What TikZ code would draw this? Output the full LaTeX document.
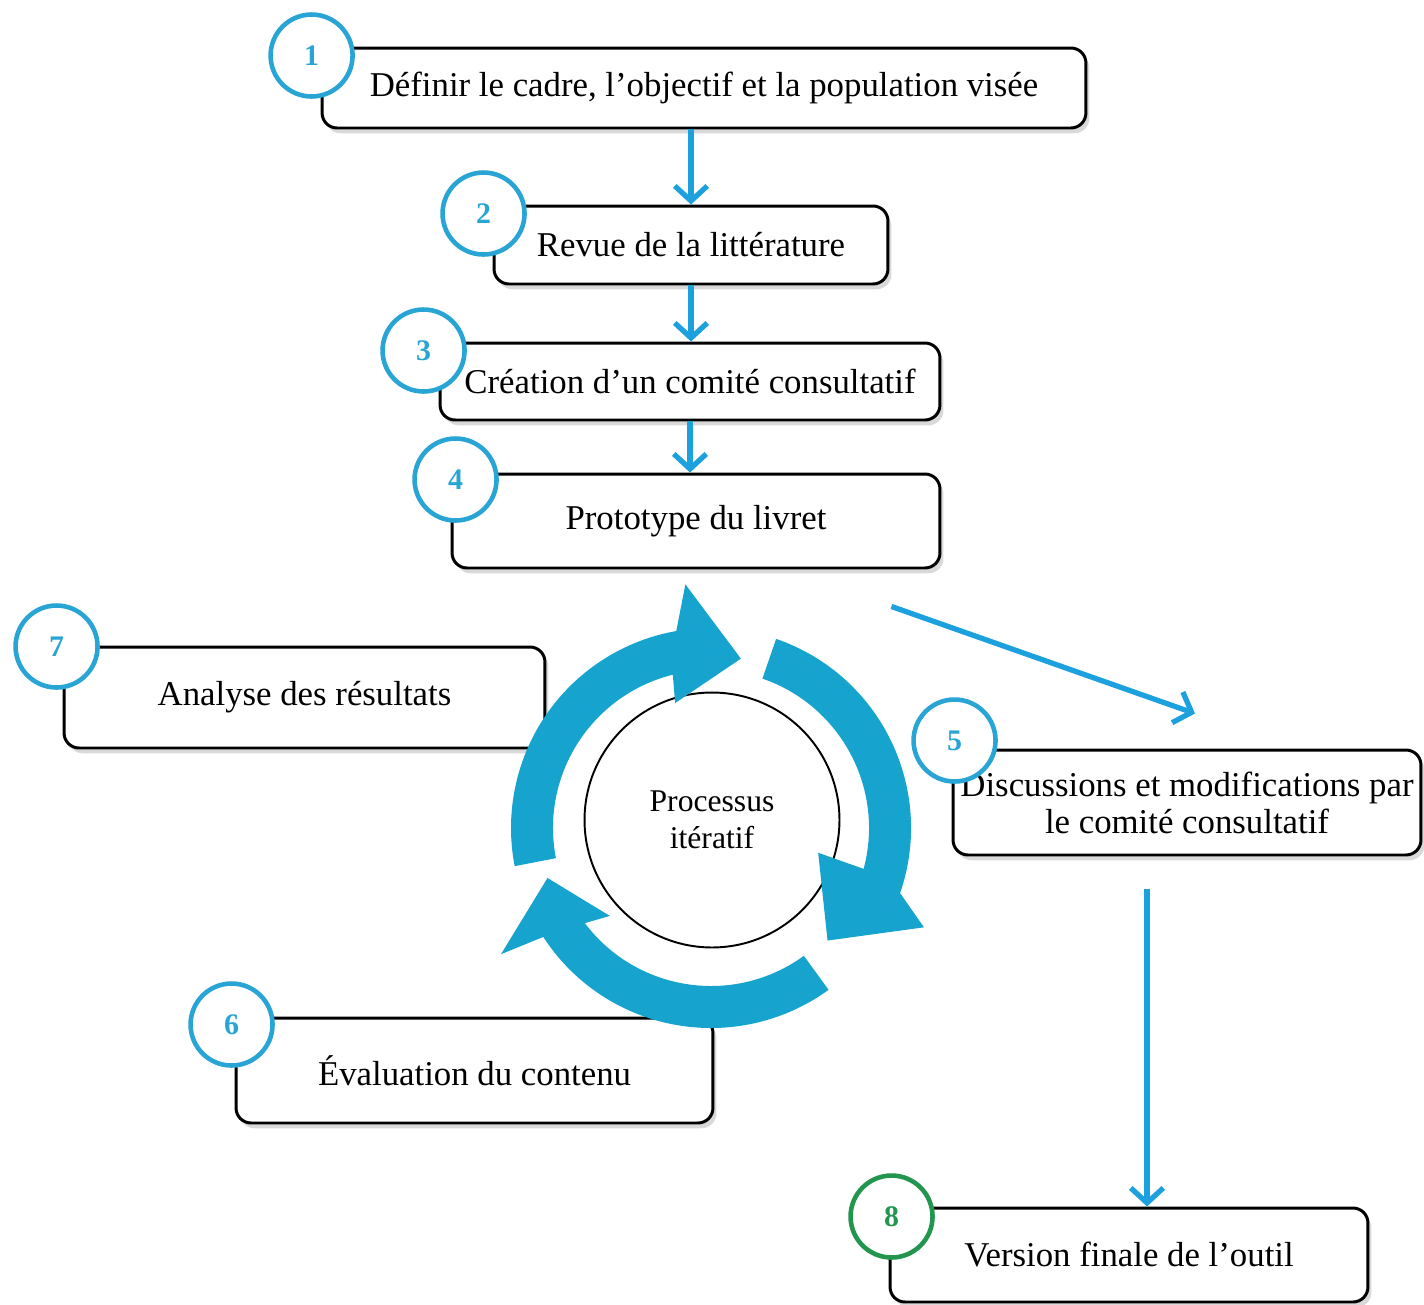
\documentclass[tikz,border=0pt]{standalone}
\usepackage{fontspec}
\setmainfont{Liberation Serif}
\usepackage{tikz}
\usetikzlibrary{arrows.meta}
\usetikzlibrary{shadows}
\definecolor{ringblue}{RGB}{40,165,212}
\definecolor{arrowblue}{RGB}{28,160,222}
\definecolor{cycblue}{RGB}{22,163,206}
\definecolor{ringgreen}{RGB}{34,150,78}

\begin{document}
\begin{tikzpicture}[x=0.02cm,y=-0.02cm]

\tikzstyle{stepbox}=[draw,rounded corners=0.3cm,line width=1.7pt,fill=white,align=center,font=\fontsize{19.8}{21}\selectfont,drop shadow={opacity=0.3,shadow xshift=2pt,shadow yshift=-3pt}]
\tikzstyle{num}=[circle,draw=ringblue,line width=2.6pt,fill=white,minimum size=1.64cm,text=ringblue,font=\fontsize{17}{17}\selectfont\bfseries]
\tikzstyle{flow}=[draw=arrowblue,line width=3pt,-{Straight Barb[length=3mm,width=6.5mm]}]
\tikzstyle{cyc}=[fill=cycblue]

\useasboundingbox (0,0) rectangle (1424,1305);

% BOXES
\node [stepbox,minimum width=15.28cm,minimum height=1.6cm] (b1) at (704,88) {Définir le cadre, l’objectif et la population visée};
\node [stepbox,minimum width=7.88cm,minimum height=1.56cm] (b2) at (691,245) {Revue de la littérature};
\node [stepbox,minimum width=10cm,minimum height=1.54cm] (b3) at (690,381.5) {Création d’un comité consultatif};
\node [stepbox,minimum width=9.76cm,minimum height=1.88cm] (b4) at (696,521) {Prototype du livret};
\node [stepbox,minimum width=9.36cm,minimum height=2.1cm] (b5) at (1187,802.5) {Discussions et modifications par\\le comité consultatif};
\node [stepbox,minimum width=9.56cm,minimum height=1.88cm] (b8) at (1129,1255) {Version finale de l’outil};
\node [stepbox,minimum width=9.62cm,minimum height=2.02cm] (b7) at (304.5,697.5) {Analyse des résultats};
\node [stepbox,minimum width=9.54cm,minimum height=2.1cm] (b6) at (474.5,1070.5) {Évaluation du contenu};

% CENTRE
\node [circle,draw,line width=1.1pt,fill=white,minimum size=5.1cm,align=center,font=\fontsize{18}{21}\selectfont] (iter) at (712,820) {Processus\\itératif};

% CYCLE ARROWS
\begin{scope}[shift={(711,828)},x=0.02cm,y=0.02cm]
\fill [cyc] (191:158) arc (191:104:158) -- (106:130) -- (80:172) -- (96:245) -- (100:200) arc (100:191:200) -- cycle;
\fill [cyc] (71:158) arc (71:-15:158) -- (-13:110) -- (-44:162) -- (-25:235) -- (-19:200) arc (-19:71:200) -- cycle;
\fill [cyc] (-54:158) arc (-54:-143:158) -- (-139:134) -- (-163:171) -- (-149:245) -- (-147:200) arc (-147:-54:200) -- cycle;
\end{scope}

% NUMBERS
\node [num] (n1) at ([xshift=-0.18cm,yshift=-0.18cm]b1.north west) {1};
\node [num] (n2) at ([xshift=-0.18cm,yshift=-0.18cm]b2.north west) {2};
\node [num] (n3) at ([xshift=-0.3cm,yshift=-0.18cm]b3.north west) {3};
\node [num] (n4) at ([xshift=0.1cm,yshift=-0.14cm]b4.north west) {4};
\node [num] (n5) at ([xshift=0.06cm,yshift=0.16cm]b5.north west) {5};
\node [num] (n6) at ([xshift=-0.06cm,yshift=-0.16cm]b6.north west) {6};
\node [num] (n7) at ([xshift=-0.12cm,yshift=-0.02cm]b7.north west) {7};
\node [num,draw=ringgreen,text=ringgreen] (n8) at ([xshift=0.06cm,yshift=-0.2cm]b8.north west) {8};

% ARROWS
\draw [flow] (b1.south -| b2.north) -- (b2.north);
\draw [flow] (b2.south) -- (b2.south |- b3.north);
\draw [flow] (b3.south) -- (b3.south |- b4.north);
\draw [flow] ([xshift=-1cm,yshift=-0.74cm]b4.south east) -- ([xshift=0.16cm,yshift=0.7cm]b5.north);
\coordinate (d5) at ([xshift=-0.8cm,yshift=-0.66cm]b5.south);
\draw [flow] (d5) -- (d5 |- b8.north);

\end{tikzpicture}
\end{document}
